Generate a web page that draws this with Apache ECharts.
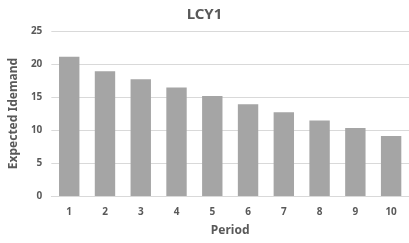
<!DOCTYPE html>
<html>
<head>
<meta charset="utf-8">
<script src="https://cdn.jsdelivr.net/npm/echarts@6/dist/echarts.min.js"></script>
<style>
  html, body { margin: 0; padding: 0; background: #fff; }
  #chart { width: 409px; height: 243px; }
</style>
</head>
<body>
<div id="chart"></div>
<script>
// periods on the x axis
var periods = ['1', '2', '3', '4', '5', '6', '7', '8', '9', '10'];
// expected demand per period
var demand = [21.1, 18.9, 17.7, 16.45, 15.15, 13.9, 12.7, 11.45, 10.3, 9.1];

var chart = echarts.init(document.getElementById('chart'));
var font = 'Noto Sans';

var option = {
    title: {
        text: 'LCY1',
        left: 'center',
        top: 2,
        textStyle: { fontFamily: font, fontSize: 15, fontWeight: 'bold', color: '#595959' }
    },
    grid: { left: 49, right: 0, top: 31, bottom: 47 },
    xAxis: {
        type: 'category',
        data: periods,
        name: 'Period',
        nameLocation: 'middle',
        nameGap: 29,
        nameTextStyle: { fontFamily: font, fontSize: 12, fontWeight: 'bold', color: '#595959' },
        axisLine: { lineStyle: { color: '#D9D9D9' } },
        axisTick: { show: false },
        axisLabel: { fontFamily: font, fontSize: 10, fontWeight: 'bold', color: '#595959', margin: 11 }
    },
    yAxis: {
        type: 'value',
        min: 0,
        max: 25,
        interval: 5,
        name: 'Expected Idemand',
        nameLocation: 'middle',
        nameGap: 29,
        nameTextStyle: { fontFamily: font, fontSize: 12, fontWeight: 'bold', color: '#595959' },
        axisLine: { show: false },
        axisTick: { show: false },
        axisLabel: { fontFamily: font, fontSize: 10, fontWeight: 'bold', color: '#595959', margin: 9 },
        splitLine: { lineStyle: { color: '#D9D9D9' } }
    },
    series: [{
        type: 'bar',
        data: demand,
        barCategoryGap: '43%',
        itemStyle: { color: '#A5A5A5' },
        silent: true
    }]
};

chart.setOption(option);
</script>
</body>
</html>
